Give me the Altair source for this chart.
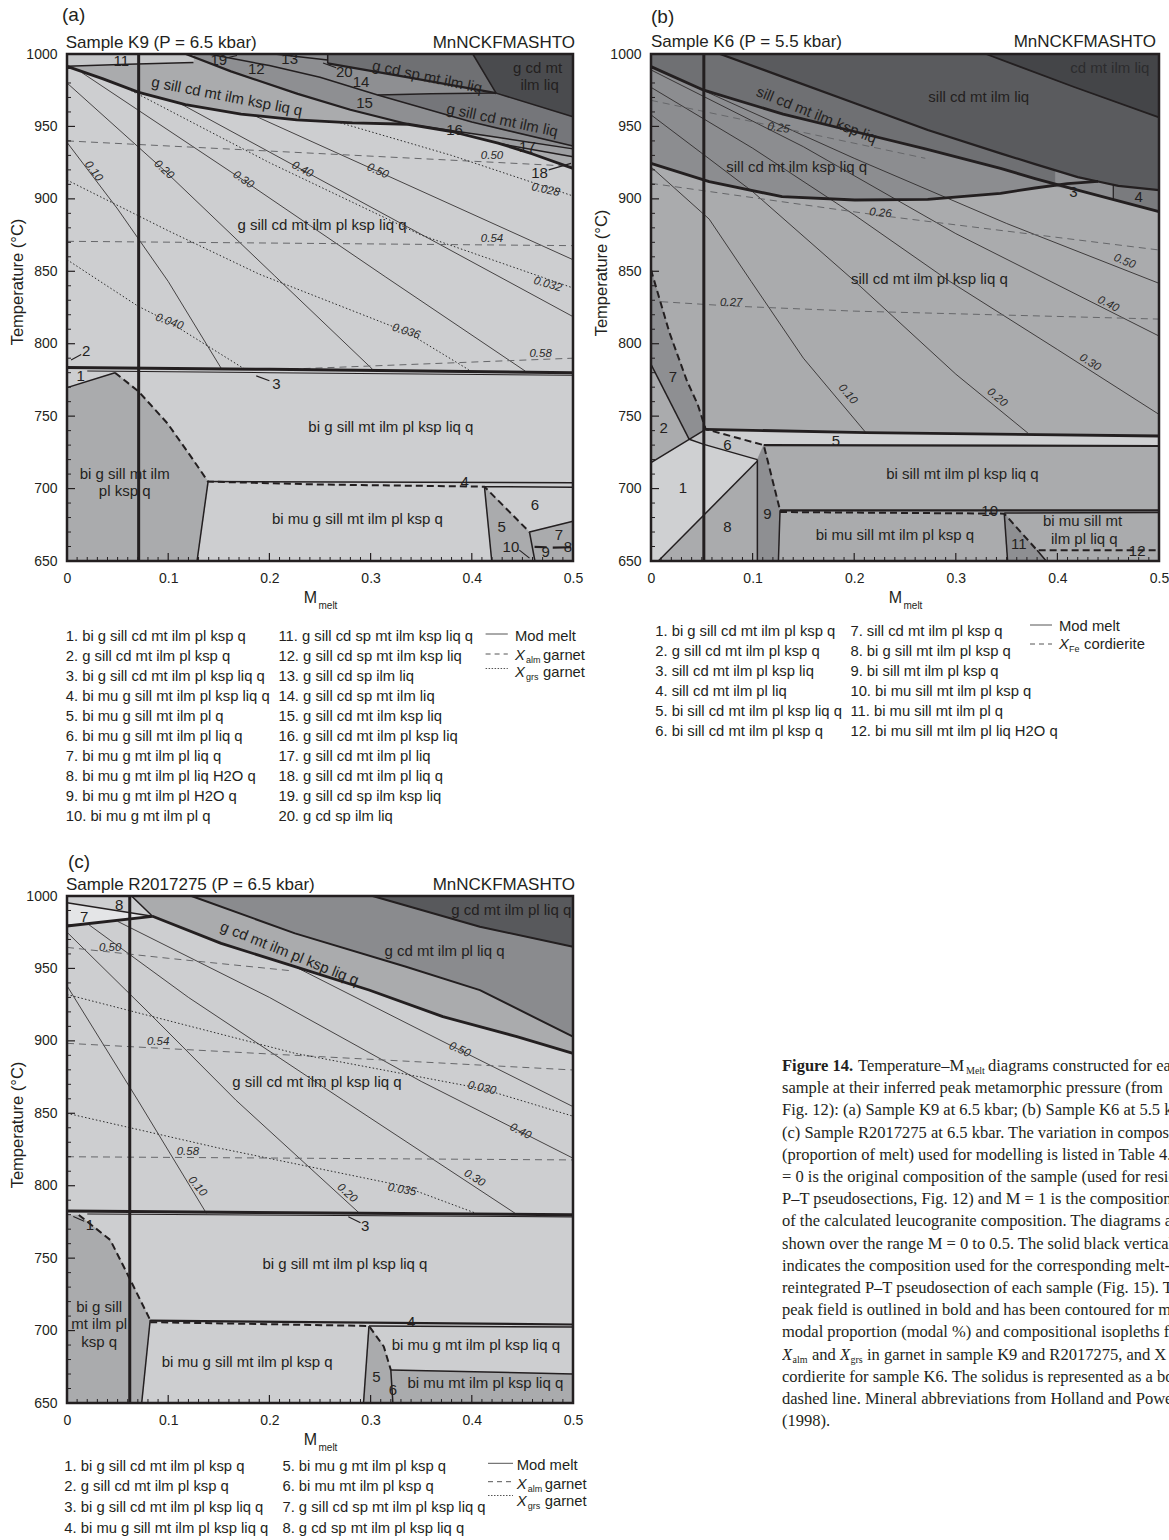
import altair as alt
import pandas as pd

FONT = "Liberation Sans"
SERIF = "Liberation Serif"
INK = "#231f20"
ISO = "#2a2a2a"
ALMC = "#66676a"

LIGHT = "#cdced0"
MED = "#aaabad"
MED2 = "#8e8f92"
DARK = "#75767a"
BAND = "#6f7073"
DARK2 = "#5a5b5e"
DARKEST = "#4a4b4e"

H = 507
W_A, W_B, W_C = 506, 508, 506
FS_FIELD = 15
FS_LEG = 14.8
FS_TITLE = 17
FS_ISO = 11.5

XMAJ = [0, 0.1, 0.2, 0.3, 0.4, 0.5]
YMAJ = [650, 700, 750, 800, 850, 900, 950, 1000]
XMIN = [k / 100 for k in range(1, 50) if k % 10]
YMIN = [t for t in range(660, 1000, 10) if t % 50]

# ======================= Panel (a): Sample K9 =======================
A_COMP = 0.0708
A_PEAK = [(0, 991.5), (0.035, 983), (0.071, 973.5), (0.117, 965), (0.172, 958.5), (0.227, 954.5),
          (0.282, 952.5), (0.337, 951.5), (0.38, 946.5), (0.426, 938.5), (0.46, 931), (0.5, 921)]
A_L15 = [(0.1175, 1000), (0.162, 988), (0.228, 972.5), (0.28, 961.5), (0.337, 951.5)]
A_L16 = [(0.337, 951.5), (0.42, 943), (0.5, 934.5)]
A_L17 = [(0.43, 937.8), (0.5, 929)]
A_GSL_LOW = [(0.307, 971.7), (0.40, 953), (0.5, 936.5)]
A_L14 = [(0.14, 1000), (0.2, 992), (0.25, 984), (0.307, 971.7), (0.36, 972.5), (0.424, 973)]
A_GSL_UP = [(0.424, 973), (0.5, 956.7)]
A_BAND = [(0.2576, 993.5), (0.34, 983.5), (0.424, 973)]
A_TOPDARK = [(0.401, 1000), (0.424, 973), (0.5, 956.7)]
A_L13 = [(0.205, 1000), (0.2576, 995.9)]
A_L11 = [(0, 991.5), (0.06, 993), (0.125, 994.2)]
A_LOWTHICK = [(0, 783.5), (0.2, 782.3), (0.5, 780)]
A_LOWTHIN = [(0.02, 781.2), (0.2, 780), (0.5, 778.2)]
A_SOLIDUS = [(0.0474, 780), (0.0708, 767), (0.0993, 745), (0.1248, 719.7), (0.1394, 704.8),
             (0.25, 702.8), (0.4125, 701.3), (0.457, 670)]
A_LEFT = [(0, 650, 769.7), (0.0474, 650, 780), (0.0708, 650, 767), (0.0993, 650, 745),
          (0.1248, 650, 719.7), (0.1285, 650, 716), (0.1394, 704.8, 704.8)]
A_RIGHT = [(0.4125, 701.3, 701.3), (0.4197, 650, 696.2), (0.457, 650, 670), (0.5, 650, 677.5)]
A_M10 = [(0, 939), (0.05, 893), (0.1, 843), (0.153, 782.3)]
A_M20 = [(0, 980), (0.0956, 920), (0.205, 847), (0.302, 782.3)]
A_M30 = [(0.015, 987), (0.174, 913), (0.315, 846), (0.453, 781)]
A_M40 = [(0.11, 966.5), (0.2325, 920), (0.5, 818.7)]
A_M50 = [(0.185, 957.5), (0.307, 919), (0.5, 858)]
A_X50 = [(0, 940), (0.5, 922.5)]
A_X54 = [(0, 870.7), (0.5, 867.7)]
A_X58 = [(0.21, 782.2), (0.5, 790)]
A_G028 = [(0.27, 952.5), (0.38, 930), (0.5, 902)]
A_G032 = [(0.06, 976), (0.2, 925), (0.35, 875), (0.5, 838.5)]
A_G036 = [(0, 913), (0.1, 878), (0.19, 848), (0.335, 808.3), (0.397, 782)]
A_G040 = [(0, 858), (0.07, 826), (0.101, 815), (0.176, 782.3)]
A_FIELDS = [(0.252, 882, "g sill cd mt ilm pl ksp liq q", 0), (0.32, 742.7, "bi g sill mt ilm pl ksp liq q", 0),
            (0.057, 710, "bi g sill mt ilm", 0), (0.057, 698, "pl ksp q", 0),
            (0.287, 678.8, "bi mu g sill mt ilm pl ksp q", 0),
            (0.158, 970.8, "g sill cd mt ilm ksp liq q", 11), (0.356, 984.3, "g cd sp mt ilm liq", 12),
            (0.465, 990, "g cd mt", 0), (0.467, 978.6, "ilm liq", 0), (0.43, 954.4, "g sill cd mt ilm liq", 12)]
A_NUMS = [(0.0536, 995, "11", 0), (0.150, 996, "19", 0), (0.22, 996.5, "13", 0), (0.187, 989.5, "12", 0),
          (0.274, 987.8, "20", 0), (0.2905, 980.9, "14", 0), (0.294, 966, "15", 0), (0.383, 947.5, "16", 0),
          (0.455, 936, "17", 0), (0.467, 917.6, "18", 0), (0.0135, 777.7, "1", 0), (0.019, 795, "2", 0),
          (0.207, 772, "3", 0), (0.393, 704.8, "4", 0), (0.4296, 673.7, "5", 0), (0.4624, 688.7, "6", 0),
          (0.486, 668, "7", 0), (0.495, 660, "8", 0), (0.473, 656.4, "9", 0), (0.4387, 660, "10", 0)]
A_ISOLAB = [(0.026, 919, "0.10", 53), (0.0956, 920, "0.20", 43), (0.174, 913, "0.30", 34),
            (0.2325, 920, "0.40", 28), (0.307, 919, "0.50", 24), (0.42, 929.4, "0.50", 0),
            (0.42, 872, "0.54", 0), (0.468, 793, "0.58", 0), (0.473, 906, "0.028", 12),
            (0.475, 840.8, "0.032", 16), (0.335, 808.3, "0.036", 17), (0.101, 815, "0.040", 20)]
A_LEG1 = ["1. bi g sill cd mt ilm pl ksp q", "2. g sill cd mt ilm pl ksp q", "3. bi g sill cd mt ilm pl ksp liq q",
          "4. bi mu g sill mt ilm pl ksp liq q", "5. bi mu g sill mt ilm pl q", "6. bi mu g sill mt ilm pl liq q",
          "7. bi mu g mt ilm pl liq q", "8. bi mu g mt ilm pl liq H2O q", "9. bi mu g mt ilm pl H2O q",
          "10. bi mu g mt ilm pl q"]
A_LEG2 = ["11. g sill cd sp mt ilm ksp liq q", "12. g sill cd sp mt ilm ksp liq", "13. g sill cd sp ilm liq",
          "14. g sill cd sp mt ilm liq", "15. g sill cd mt ilm ksp liq", "16. g sill cd mt ilm pl ksp liq",
          "17. g sill cd mt ilm pl liq", "18. g sill cd mt ilm pl liq q", "19. g sill cd sp ilm ksp liq",
          "20. g cd sp ilm liq"]

# ======================= Panel (b): Sample K6 =======================
B_COMP = 0.052
B_A = [(0, 991.3), (0.052, 975), (0.13, 958.5), (0.2, 946.5), (0.27, 934.5), (0.344, 921), (0.378, 914),
       (0.42, 906), (0.5, 891.2)]
B_B = [(0.068, 1000), (0.129, 984.4), (0.2007, 966), (0.2724, 947.5), (0.344, 931.4), (0.378, 924),
       (0.42, 915), (0.44, 912), (0.46, 909), (0.5, 906)]
B_C = [(0, 924.5), (0.0573, 911.9), (0.129, 901.5), (0.2007, 899.2), (0.2724, 899.7), (0.344, 903.8),
       (0.378, 907.5), (0.41, 910.5), (0.44, 912)]
B_D = [(0.3297, 1000), (0.4158, 977.4), (0.5, 956.3)]
B_S2 = [(0, 991.3), (0.052, 975), (0.13, 958.5), (0.2, 946.5), (0.27, 934.5), (0.344, 921), (0.378, 914),
        (0.40, 909.7)]
B_R3 = [(0.398, 908.5, 919.8), (0.42, 906, 915), (0.44, 902.3, 912), (0.46, 898.6, 909), (0.5, 891.2, 906)]
B_R4 = [(0.455, 899.5, 909.8), (0.5, 891.2, 906)]
B_F5 = [(0.0538, 740.9, 740.9), (0.111, 730, 739.8), (0.2115, 729.8, 738.6), (0.5, 729.4, 736.3)]
B_F6 = [(0.0376, 734, 734), (0.0538, 730.6, 740.9), (0.1047, 720, 731.2), (0.111, 730, 730)]
B_F1 = [(0, 650, 717.9), (0.0072, 650, 721), (0.0376, 671.5, 734), (0.052, 681.7, 730.5), (0.1047, 719, 720)]
B_F7 = [(0, 785.7, 851), (0.018, 761, 808), (0.035, 737.6, 775), (0.0376, 734, 771), (0.046, 737.6, 758),
        (0.0538, 740.9, 741)]
B_F9 = [(0.1047, 650, 720), (0.111, 650, 730), (0.1254, 650, 689.5), (0.127, 685, 685)]
B_F11 = [(0.3477, 682.7, 682.7), (0.351, 650, 680.2), (0.38, 650, 657.4), (0.389, 650, 650)]
B_PEAKLOW = [(0.0538, 740.9), (0.2115, 738.6), (0.5, 736.3)]
B_SOL1 = [(0, 851), (0.018, 808), (0.035, 775), (0.046, 758), (0.0538, 741), (0.111, 730), (0.127, 685)]
B_SOL2 = [(0.127, 683.8), (0.3477, 682.7), (0.38, 657.4), (0.5, 657.4)]
B_M10 = [(0, 922), (0.0573, 886), (0.0986, 843), (0.15, 790), (0.2115, 738.6)]
B_M20 = [(0, 958), (0.1, 905), (0.2007, 843), (0.3, 779), (0.371, 738.3)]
B_M30 = [(0, 977), (0.1, 935), (0.2, 889), (0.294, 843), (0.4, 796), (0.5, 751.2)]
B_M40 = [(0, 989), (0.15, 936), (0.3, 876), (0.5, 805.3)]
B_M50 = [(0.04, 978.5), (0.2, 928), (0.35, 883), (0.5, 841.7)]
B_F25 = [(0, 968), (0.1254, 949.5), (0.27, 928)]
B_F26 = [(0, 910.7), (0.2258, 888.5), (0.5, 864.7)]
B_F27 = [(0.01, 829), (0.079, 826), (0.2, 822.5), (0.5, 817)]
B_FIELDS = [(0.3226, 970, "sill cd mt ilm liq", 0), (0.163, 958, "sill cd mt ilm ksp liq", 22),
            (0.1434, 922.2, "sill cd mt ilm ksp liq q", 0), (0.274, 845, "sill cd mt ilm pl ksp liq q", 0),
            (0.3065, 710.3, "bi sill mt ilm pl ksp liq q", 0), (0.240, 668, "bi mu sill mt ilm pl ksp q", 0),
            (0.4247, 677.6, "bi mu sill mt", 0), (0.4265, 665, "ilm pl liq q", 0)]
B_DARKTXT = [(0.4516, 990, "cd mt ilm liq", 0)]
B_NUMS = [(0.4158, 905, "3", 0), (0.48, 901.5, "4", 0), (0.0215, 777, "7", 0), (0.0125, 742, "2", 0),
          (0.0753, 730, "6", 0), (0.182, 732.8, "5", 0), (0.0315, 700.2, "1", 0), (0.0753, 673.5, "8", 0),
          (0.1147, 682.7, "9", 0), (0.3333, 684.5, "10", 0), (0.362, 661.5, "11", 0), (0.4785, 657, "12", 0)]
B_ISOLAB = [(0.1254, 948.7, "0.25", 8), (0.2258, 890, "0.26", 5), (0.079, 828, "0.27", 0),
            (0.1935, 765, "0.10", 50), (0.3405, 762.7, "0.20", 40), (0.432, 786.9, "0.30", 32),
            (0.45, 827.2, "0.40", 27), (0.466, 856.6, "0.50", 22)]
B_LEG1 = ["1. bi g sill cd mt ilm pl ksp q", "2. g sill cd mt ilm pl ksp q", "3. sill cd mt ilm pl ksp liq",
          "4. sill cd mt ilm pl liq", "5. bi sill cd mt ilm pl ksp liq q", "6. bi sill cd mt ilm pl ksp q"]
B_LEG2 = ["7. sill cd mt ilm pl ksp q", "8. bi g sill mt ilm pl ksp q", "9. bi sill mt ilm pl ksp q",
          "10. bi mu sill mt ilm pl ksp q", "11. bi mu sill mt ilm pl q", "12. bi mu sill mt ilm pl liq H2O q"]

# ======================= Panel (c): Sample R2017275 =======================
C_COMP = 0.062
C_PEAK = [(0.0845, 986), (0.1523, 967.3), (0.2253, 951.2), (0.2984, 935.1), (0.3714, 916.7),
          (0.4445, 902.9), (0.5, 891.4)]
C_BANDFILL = [(0.0638, 1000, 1000)] + [(m, t, 1000) for m, t in C_PEAK]
C_DARK = [(0.123, 1000), (0.2253, 974.2), (0.335, 951.2), (0.408, 935), (0.5, 902.9)]
C_DARKEST = [(0.302, 1000), (0.408, 978.8), (0.5, 965)]
C_7BOT = [(0, 979.3), (0.0845, 986)]
C_7TOP = [(0, 995.4), (0.0845, 986)]
C_8R = [(0.0638, 1000), (0.0845, 986)]
C_F7 = [(0, 979.3, 995.4), (0.0845, 986, 986)]
C_LEFT = [(0, 650, 779.5), (0.0117, 650, 779.8), (0.0427, 650, 762.6), (0.061, 650, 737.2),
          (0.0738, 650, 719.1), (0.0822, 707.3, 707.3)]
C_F5 = [(0.293, 650, 650), (0.2984, 650, 703.2), (0.313, 650, 689), (0.32, 650, 672.8), (0.322, 650, 650)]
C_FR = [(0.32, 650, 672.8), (0.5, 650, 670.1)]
C_LOWTHICK = [(0, 782.5), (0.5, 780)]
C_LOWTHIN = [(0.02, 780.5), (0.5, 778.5)]
C_SOL1 = [(0.0117, 779.8), (0.0427, 762.6), (0.061, 737.2), (0.0822, 707.3)]
C_SOL2 = [(0.0822, 705.8), (0.2984, 703.2), (0.313, 689), (0.32, 672.8)]
C_M10 = [(0, 938), (0.07, 859), (0.1377, 781)]
C_M20 = [(0, 975), (0.08, 920), (0.167, 859), (0.289, 781)]
C_M30 = [(0.02, 981), (0.12, 930), (0.273, 859), (0.4427, 781)]
C_M40 = [(0.05, 982.5), (0.2, 930), (0.35, 872), (0.5, 819)]
C_M50 = [(0.2253, 951.2), (0.388, 893.7), (0.5, 854.6)]
C_X50 = [(0, 964.5), (0.1, 957), (0.22, 948.5)]
C_X54 = [(0, 898.3), (0.5, 879.9)]
C_X58 = [(0, 820), (0.5, 817.8)]
C_G030 = [(0, 932), (0.2253, 891.4), (0.41, 867), (0.5, 848)]
C_G035 = [(0, 850), (0.15, 826), (0.331, 800), (0.404, 781)]
C_FIELDS = [(0.439, 990.3, "g cd mt ilm pl liq q", 0), (0.373, 962.3, "g cd mt ilm pl liq q", 0),
            (0.22, 960.4, "g cd mt ilm pl ksp liq q", 22), (0.247, 871.8, "g sill cd mt ilm pl ksp liq q", 0),
            (0.2746, 745.8, "bi g sill mt ilm pl ksp liq q", 0), (0.0318, 716.5, "bi g sill", 0),
            (0.0318, 704.6, "mt ilm pl", 0), (0.0318, 692.4, "ksp q", 0),
            (0.178, 678.6, "bi mu g sill mt ilm pl ksp q", 0), (0.404, 690.1, "bi mu g mt ilm pl ksp liq q", 0),
            (0.4134, 663.6, "bi mu mt ilm pl ksp liq q", 0)]
C_NUMS = [(0.0516, 993.8, "8", 0), (0.017, 985.7, "7", 0), (0.0226, 773, "1", 0), (0.2947, 772.2, "3", 0),
          (0.34, 706.2, "4", 0), (0.3057, 668.2, "5", 0), (0.322, 659, "6", 0)]
C_ISOLAB = [(0.1286, 799.4, "0.10", 50), (0.2765, 794.8, "0.20", 42), (0.4025, 805.1, "0.30", 32),
            (0.448, 837.3, "0.40", 27), (0.388, 893.7, "0.50", 24), (0.0427, 963.9, "0.50", 0),
            (0.09, 899.4, "0.54", 0), (0.1194, 823.5, "0.58", 0), (0.41, 867.2, "0.030", 12),
            (0.331, 797, "0.035", 10)]
C_LEG1 = ["1. bi g sill cd mt ilm pl ksp q", "2. g sill cd mt ilm pl ksp q", "3. bi g sill cd mt ilm pl ksp liq q",
          "4. bi mu g sill mt ilm pl ksp liq q"]
C_LEG2 = ["5. bi mu g mt ilm pl ksp q", "6. bi mu mt ilm pl ksp q", "7. g sill cd sp mt ilm pl ksp liq q",
          "8. g cd sp mt ilm pl ksp liq q"]

# ======================= Caption =======================
CAPTION = [
    "sample at their inferred peak metamorphic pressure (from",
    "Fig. 12): (a) Sample K9 at 6.5 kbar; (b) Sample K6 at 5.5 kbar;",
    "(c) Sample R2017275 at 6.5 kbar. The variation in composition",
    "(proportion of melt) used for modelling is listed in Table 4. M",
    "= 0 is the original composition of the sample (used for residual",
    "P\u2013T pseudosections, Fig. 12) and M = 1 is the composition",
    "of the calculated leucogranite composition. The diagrams are",
    "shown over the range M = 0 to 0.5. The solid black vertical line",
    "indicates the composition used for the corresponding melt-",
    "reintegrated P\u2013T pseudosection of each sample (Fig. 15). The",
    "peak field is outlined in bold and has been contoured for melt",
    "modal proportion (modal %) and compositional isopleths for",
    None,
    "cordierite for sample K6. The solidus is represented as a bold",
    "dashed line. Mineral abbreviations from Holland and Powell",
    "(1998).",
]


def epi(line):
    return [(m, t, 1000) for m, t in line]


def ptext(rows, size, align="left", color=INK, italic=False, bold=False, font=FONT, angle=None, clip=False):
    df = pd.DataFrame([{"px": x, "py": y, "txt": s} for x, y, s in rows])
    kw = dict(font=font, fontSize=size, color=color, align=align, baseline="middle")
    if italic:
        kw["fontStyle"] = "italic"
    if bold:
        kw["fontWeight"] = "bold"
    if angle is not None:
        kw["angle"] = angle
    if clip:
        kw["clip"] = True
    return alt.Chart(df).mark_text(**kw).encode(
        x=alt.X("px:Q", scale=None, axis=None), y=alt.Y("py:Q", scale=None, axis=None), text="txt:N")


def prules(rows, width, color=INK, dash=None):
    df = pd.DataFrame([{"x0": a, "x1": b, "py": y} for a, b, y in rows])
    kw = dict(strokeWidth=width, color=color)
    if dash:
        kw["strokeDash"] = dash
    return alt.Chart(df).mark_rule(**kw).encode(
        x=alt.X("x0:Q", scale=None, axis=None), x2="x1:Q", y=alt.Y("py:Q", scale=None, axis=None))


def panel(W, bg, fills, isos, bounds, labels, extras):
    xs = alt.Scale(domain=[0, 0.5], nice=False, zero=False)
    ys = alt.Scale(domain=[650, 1000], nice=False, zero=False)
    ax = alt.Axis(values=XMAJ, format="~g", title=None, ticks=False, tickSize=0, domain=False, grid=False,
                  labelFont=FONT, labelFontSize=14, labelColor=INK, labelPadding=10, labelFlush=False,
                  labelOverlap=False, labelBound=False)
    ay = alt.Axis(values=YMAJ, format="d", title=None, ticks=False, tickSize=0, domain=False, grid=False,
                  labelFont=FONT, labelFontSize=14, labelColor=INK, labelPadding=10, labelFlush=False,
                  labelOverlap=False, labelBound=False)

    def X(f):
        return alt.X(f + ":Q", scale=xs, axis=ax)

    def Y(f):
        return alt.Y(f + ":Q", scale=ys, axis=ay)

    def area(pts, color):
        df = pd.DataFrame([{"M": m, "lo": lo, "hi": hi} for (m, lo, hi) in pts])
        return alt.Chart(df).mark_area(fill=color, stroke=color, strokeWidth=0.6, fillOpacity=1,
                                       orient="vertical").encode(
            x=X("M"), y=Y("lo"), y2=alt.Y2("hi"))

    def lines(polys, width, color=INK, dash=None):
        rows = []
        for j, p in enumerate(polys):
            for k, (m, t) in enumerate(p):
                rows.append({"id": j, "i": k, "M": m, "T": t})
        kw = dict(strokeWidth=width, color=color, strokeJoin="round", strokeCap="butt")
        if dash:
            kw["strokeDash"] = dash
        return alt.Chart(pd.DataFrame(rows)).mark_line(**kw).encode(
            x=X("M"), y=Y("T"), detail="id:N", order="i:Q")

    def texts(rows, size, color=INK, italic=False):
        df = pd.DataFrame([{"M": m, "T": t, "txt": s, "ang": a % 360} for m, t, s, a in rows])
        kw = dict(font=FONT, fontSize=size, color=color, align="center", baseline="middle")
        if italic:
            kw["fontStyle"] = "italic"
        return alt.Chart(df).mark_text(**kw).encode(
            x=X("M"), y=Y("T"), text="txt:N", angle=alt.Angle("ang:Q", scale=None))

    layers = [area([(0, 650, 1000), (0.5, 650, 1000)], bg)]
    for pts, col in fills:
        layers.append(area(pts, col))
    for polys, w, col, dash in isos:
        layers.append(lines(polys, w, col, dash))
    for polys, w, col, dash in bounds:
        layers.append(lines(polys, w, col, dash))
    for rows, size, col, it in labels:
        layers.append(texts(rows, size, col, it))
    # inward ticks
    layers.append(alt.Chart(pd.DataFrame({"v": XMAJ})).mark_rule(color=INK, strokeWidth=1.2).encode(
        x=X("v"), y=alt.value(H), y2=alt.value(H - 8)))
    layers.append(alt.Chart(pd.DataFrame({"v": XMIN})).mark_rule(color=INK, strokeWidth=1.0).encode(
        x=X("v"), y=alt.value(H), y2=alt.value(H - 4)))
    layers.append(alt.Chart(pd.DataFrame({"v": YMAJ})).mark_rule(color=INK, strokeWidth=1.2).encode(
        y=Y("v"), x=alt.value(0), x2=alt.value(8)))
    layers.append(alt.Chart(pd.DataFrame({"v": YMIN})).mark_rule(color=INK, strokeWidth=1.0).encode(
        y=Y("v"), x=alt.value(0), x2=alt.value(4)))
    fr = pd.DataFrame([{"a": 0, "b": 0.5, "c": 650, "d": 1000}])
    layers.append(alt.Chart(fr).mark_rect(fillOpacity=0, stroke=INK, strokeWidth=2.5).encode(
        x=X("a"), x2="b:Q", y=Y("c"), y2="d:Q"))
    layers.extend(extras)
    return alt.layer(*layers).properties(width=W, height=H)


def frame_texts(W, letter, title, ly, ty, lx, tx, rx, ytitle_y):
    return [
        ptext([(lx, ly, letter)], 19),
        ptext([(tx, ty, title)], FS_TITLE),
        ptext([(rx, ty, "MnNCKFMASHTO")], FS_TITLE, align="right"),
        ptext([(-49, ytitle_y, "Temperature (\u00b0C)")], 16.5, align="center", angle=270),
        ptext([(W / 2 - 9.5, H + 37, "M")], 16, align="center"),
        ptext([(W / 2 - 1.5, H + 45, "melt")], 10),
    ]


def legend(c1x, c2x, y0, dy, col1, col2):
    rows = [(c1x, y0 + dy * k, s) for k, s in enumerate(col1)] + [(c2x, y0 + dy * k, s) for k, s in enumerate(col2)]
    return ptext(rows, FS_LEG)


ISO_W = 0.8
DASH_ALM = [7, 5]
DASH_GRS = [1.5, 2.2]
DASH_SOL = [7, 4]

# ----------------------------- build (a) -----------------------------
pa = panel(
    W_A, LIGHT,
    [(epi(A_PEAK), MED), (epi(A_L17), "#9d9ea1"), (epi(A_L15 + A_L16[1:]), MED2),
     (epi(A_GSL_LOW), DARK), (epi(A_L14 + A_GSL_UP[1:]), MED2), (epi(A_BAND), BAND),
     (epi(A_TOPDARK), DARKEST), (epi(A_L11), "#c6c7c9"), (A_LEFT, MED), (A_RIGHT, MED)],
    [([A_M10, A_M20, A_M30, A_M40, A_M50], ISO_W, INK, None),
     ([A_X50, A_X54, A_X58], 1.0, ALMC, DASH_ALM),
     ([A_G028, A_G032, A_G036, A_G040], 1.0, ISO, DASH_GRS)],
    [([A_LOWTHIN, [(0.157, 997.2), (0.168, 999)], [(0.266, 990.5), (0.253, 993.8)],
       [(0.476, 920), (0.498, 924.5)], [(0.014, 792.5), (0.004, 788.7)], [(0.2, 774.5), (0.187, 777.8)],
       [(0.447, 657.5), (0.457, 652)]], 1.1, INK, None),
     ([A_L16, A_L17, A_GSL_LOW, A_L14, A_GSL_UP, A_TOPDARK[:2], A_L13, A_L11,
       [(0.2576, 993.5), (0.2576, 1000)], [(0, 769.7), (0.0474, 780)], [(0.1285, 650), (0.1394, 704.8)],
       [(0.1394, 704.8), (0.5, 704)], [(0.4197, 650), (0.4125, 701.3)], [(0.4125, 701.3), (0.5, 700.9)],
       [(0.457, 670), (0.4624, 650)], [(0.457, 670), (0.5, 677.5)]], 1.5, INK, None),
     ([A_L15, A_BAND, [(0.462, 659.8), (0.474, 659.5)], [(0.48, 659.2), (0.498, 659.5)]], 2.2, INK, None),
     ([A_SOLIDUS], 2.0, INK, DASH_SOL),
     ([A_PEAK], 2.8, INK, None),
     ([A_LOWTHICK, [(A_COMP, 650), (A_COMP, 1000)]], 3.0, INK, None)],
    [(A_ISOLAB, FS_ISO, ISO, True), (A_FIELDS, FS_FIELD, INK, False), (A_NUMS, FS_FIELD, INK, False)],
    frame_texts(W_A, "(a)", "Sample K9 (P = 6.5 kbar)", -39, -10.7, -5, -1.3, W_A + 2, 228) + [
        legend(-1.3, 211.4, 583.3, 20, A_LEG1, A_LEG2),
        prules([(418.6, 440.8, 580)], 1.0, "#555555"),
        prules([(418.6, 440.8, 600)], 1.0, "#555555", [5, 4]),
        prules([(418.6, 440.8, 614.5)], 1.0, "#555555", [1.5, 1.5]),
        ptext([(448, 582.7, "Mod melt"), (476, 602, "garnet"), (476, 618.7, "garnet")], FS_LEG),
        ptext([(448, 602, "X"), (448, 618.7, "X")], FS_LEG, italic=True),
        ptext([(459, 606, "alm"), (459, 622.7, "grs")], 9),
        alt.Chart(pd.DataFrame({"a": [0]})).mark_rule(opacity=0, strokeWidth=0.1).encode(
            x=alt.value(-67), x2=alt.value(-60), y=alt.value(-54), y2=alt.value(-54)),
    ])

# ----------------------------- build (b) -----------------------------
pb = panel(
    W_B, MED,
    [(epi(B_C + [(0.46, 909), (0.5, 906)]), "#8c8d90"), (epi(B_S2), BAND), (B_R3, "#8e8f92"),
     (B_R4, "#7a7b7e"), (epi(B_B), DARK2), (epi(B_D), "#444548"),
     (B_F5, "#cfd0d2"), (B_F6, "#c2c3c5"), (B_F1, "#cfd0d2"), (B_F7, "#8e8f92"), (B_F9, "#8e8f92"),
     (B_F11, "#8e8f92")],
    [([B_M10, B_M20, B_M30, B_M40, B_M50], ISO_W, INK, None),
     ([B_F25, B_F26, B_F27], 1.0, ALMC, DASH_ALM)],
    [([[(0.455, 899.5), (0.455, 909.8)]], 1.2, INK, None),
     ([[(0, 785.7), (0.0376, 734)], [(0, 717.9), (0.0376, 734), (0.052, 730.5), (0.1047, 720)],
       [(0.0376, 734), (0.0538, 740.9)], [(0.0072, 650), (0.1047, 719)], [(0.1047, 650), (0.1047, 720)],
       [(0.127, 685), (0.1254, 650)], [(0.3477, 682.7), (0.351, 650)], [(0.3477, 683.2), (0.5, 683.4)],
       [(0.38, 657.4), (0.389, 650)]], 1.5, INK, None),
     ([B_D], 1.8, INK, None),
     ([B_B, [(0.111, 730), (0.5, 729.4)], [(0.127, 685), (0.5, 685)]], 2.2, INK, None),
     ([B_SOL1, B_SOL2], 2.0, INK, DASH_SOL),
     ([B_A, B_C, B_PEAKLOW], 2.8, INK, None),
     ([[(B_COMP, 650), (B_COMP, 1000)]], 3.0, INK, None)],
    [(B_ISOLAB, FS_ISO, ISO, True), (B_FIELDS, FS_FIELD, INK, False), (B_DARKTXT, FS_FIELD, "#2c2c2e", False),
     (B_NUMS, FS_FIELD, INK, False)],
    frame_texts(W_B, "(b)", "Sample K6 (P = 5.5 kbar)", -37, -12, 0, 0, W_B - 3, 219) + [
        legend(4.2, 199.4, 577.7, 20, B_LEG1, B_LEG2),
        prules([(379, 401, 571)], 1.0, "#555555"),
        prules([(379, 401, 590)], 1.0, "#555555", [5, 4]),
        ptext([(408, 572.7, "Mod melt"), (433, 591, "cordierite")], FS_LEG),
        ptext([(408, 591, "X")], FS_LEG, italic=True),
        ptext([(418, 595, "Fe")], 9),
    ])

# ----------------------------- build (c) -----------------------------
pc = panel(
    W_C, LIGHT,
    [(C_BANDFILL, MED), (epi(C_DARK), "#8a8b8e"), (epi(C_DARKEST), "#58595c"), (C_F7, "#e4e5e7"),
     (C_LEFT, MED), (C_F5, MED), (C_FR, MED)],
    [([C_M10, C_M20, C_M30, C_M40, C_M50], ISO_W, INK, None),
     ([C_X50, C_X54, C_X58], 1.0, ALMC, DASH_ALM),
     ([C_G030, C_G035], 1.0, ISO, DASH_GRS)],
    [([C_LOWTHIN, [(0.017, 775.5), (0.0062, 778.7)], [(0.29, 774.5), (0.278, 778.5)]], 1.1, INK, None),
     ([C_7TOP, C_8R, [(0.0822, 707.3), (0.0738, 650)], [(0.2984, 703.2), (0.5, 702.5)],
       [(0.2984, 703.2), (0.293, 650)], [(0.32, 672.8), (0.5, 670.1)], [(0.32, 672.8), (0.322, 650)]],
      1.5, INK, None),
     ([C_DARK, C_DARKEST], 2.0, INK, None),
     ([[(0.0822, 706.8), (0.5, 704.2)]], 2.2, INK, None),
     ([C_SOL1, C_SOL2], 2.0, INK, DASH_SOL),
     ([C_PEAK, C_7BOT], 2.8, INK, None),
     ([C_LOWTHICK, [(C_COMP, 650), (C_COMP, 1000)]], 3.0, INK, None)],
    [(C_ISOLAB, FS_ISO, ISO, True), (C_FIELDS, FS_FIELD, INK, False), (C_NUMS, FS_FIELD, INK, False)],
    frame_texts(W_C, "(c)", "Sample R2017275 (P = 6.5 kbar)", -34.3, -11, 1, -1, W_C + 2, 229) + [
        legend(-2.7, 215.4, 570.7, 20.75, C_LEG1, C_LEG2),
        prules([(421, 446, 567.3)], 1.0, "#555555"),
        prules([(421, 446, 585.7)], 1.0, "#555555", [5, 4]),
        prules([(421, 446, 599.5)], 1.0, "#555555", [1.5, 1.5]),
        ptext([(449.7, 570, "Mod melt"), (477.7, 589, "garnet"), (477.7, 605.7, "garnet")], FS_LEG),
        ptext([(449.7, 589, "X"), (449.7, 605.7, "X")], FS_LEG, italic=True),
        ptext([(460.7, 593, "alm"), (460.7, 609.7, "grs")], 9),
    ])

# ----------------------------- caption -----------------------------
CAP_Y0, CAP_DY, CAP_FS = 170, 22.2, 16.5
cap_rows = [(0, CAP_Y0 + CAP_DY * (k + 1), s) for k, s in enumerate(CAPTION) if s]
y14 = CAP_Y0 + CAP_DY * 13
cap_layers = [
    ptext([(0, CAP_Y0, "Figure 14.")], CAP_FS, font=SERIF, bold=True, clip=True),
    ptext([(76, CAP_Y0, "Temperature\u2013M")], CAP_FS, font=SERIF, clip=True),
    ptext([(184, CAP_Y0 + 5, "Melt")], 10, font=SERIF, clip=True),
    ptext([(206, CAP_Y0, "diagrams constructed for each")], CAP_FS, font=SERIF, clip=True),
    ptext(cap_rows, CAP_FS, font=SERIF, clip=True),
    ptext([(0, y14, "X"), (58, y14, "X")], CAP_FS, font=SERIF, italic=True, clip=True),
    ptext([(10.5, y14 + 5, "alm"), (68.5, y14 + 5, "grs")], 10, font=SERIF, clip=True),
    ptext([(30, y14, "and"), (85, y14, "in garnet in sample K9 and R2017275, and X")], CAP_FS, font=SERIF,
          clip=True),
]
cap = alt.layer(*cap_layers).properties(width=387, height=540)

row1 = alt.hconcat(pa, pb, spacing=78, bounds="flush")
row2 = alt.hconcat(pc, cap, spacing=209, bounds="flush")
chart = alt.vconcat(row1, row2, spacing=842, bounds="flush").properties(padding=0).configure_view(stroke=None)

chart.save("out.html", embed_options={"renderer": "svg", "actions": False})
